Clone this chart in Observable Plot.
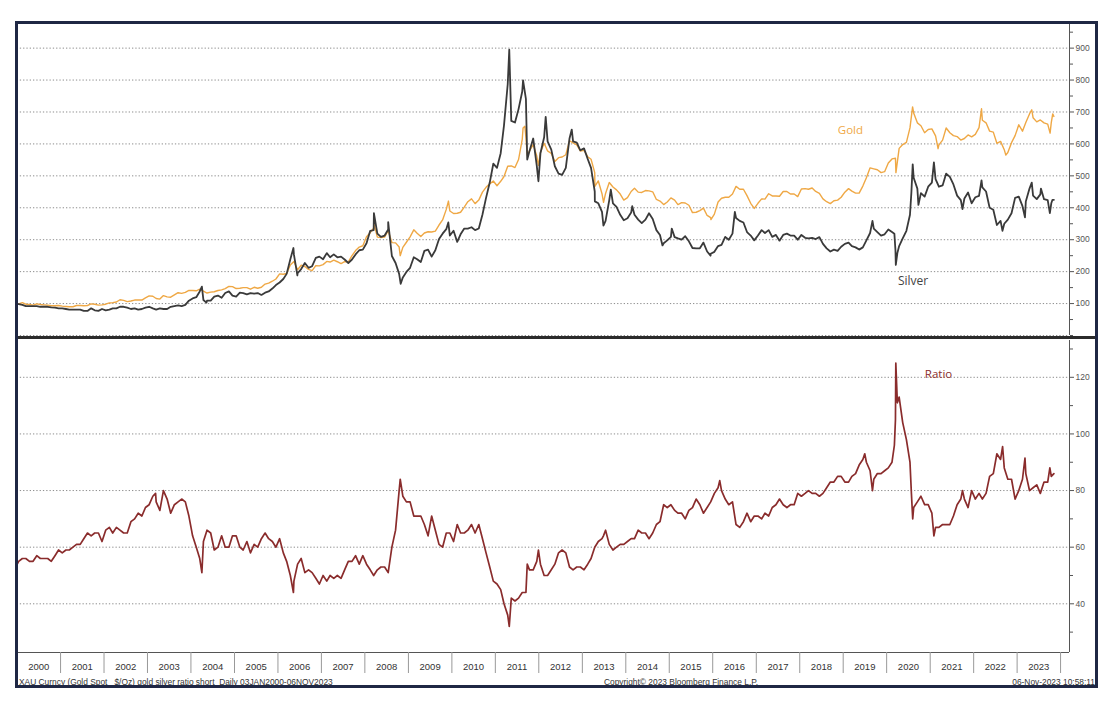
<!DOCTYPE html>
<html><head><meta charset="utf-8">
<script src="https://cdn.jsdelivr.net/npm/d3@7"></script>
<script src="https://cdn.jsdelivr.net/npm/@observablehq/plot@0.6"></script>
<style>
body{margin:0;background:#fff;}
#wrap{position:relative;width:1118px;height:708px;overflow:hidden;background:#fff;font-family:"Liberation Sans",Arial,sans-serif;}
.abs{position:absolute;}
#frame{left:15px;top:21px;width:1077px;height:661px;border:3px solid #1f2744;pointer-events:none;z-index:5;}
#sep{left:18px;top:336px;width:1077px;height:3px;background:#2b2b2b;z-index:4;}
.foot{top:677px;font-size:8.4px;color:#333;white-space:pre;line-height:10px;}
</style></head>
<body>
<div id="wrap">
  <div id="topPanel" class="abs" style="left:0;top:24px;"></div>
  <div id="botPanel" class="abs" style="left:0;top:340px;"></div>
  <div id="sep" class="abs"></div>
  <div class="abs foot" style="left:19px;">XAU Curncy (Gold Spot   $/Oz) gold silver ratio short  Daily 03JAN2000-06NOV2023</div>
  <div class="abs foot" style="left:604px;">Copyright© 2023 Bloomberg Finance L.P.</div>
  <div class="abs foot" style="right:23px;">06-Nov-2023 10:58:11</div>
  <div id="frame" class="abs"></div>
</div>
<script>
// ---- Monthly values (mid-month), Jan 2000 .. Oct 2023 ----
const goldMonthly = [
 99,103,98,97,95,99,97,96,95,93,93,94,
 92,91,90,90,94,94,93,94,99,98,95,96,
 98,102,103,105,112,110,106,108,111,111,111,118,
 124,123,116,114,125,121,120,127,134,132,135,141,
 141,140,145,139,133,136,137,141,143,147,154,153,
 147,148,150,150,145,151,148,151,161,164,170,177,
 193,192,194,221,232,206,220,216,207,203,219,218,
 222,232,230,236,231,225,231,231,250,266,277,281,
 309,322,336,308,307,308,328,291,290,277,276,292,
 309,331,320,310,321,325,324,327,346,362,395,390,
 382,383,386,402,419,428,413,424,449,464,475,484,
 469,483,498,530,531,526,551,614,620,578,598,562,
 574,602,578,570,545,557,559,566,610,603,597,578,
 580,560,552,510,484,444,445,479,465,456,443,424,
 432,451,461,449,448,454,453,450,426,421,410,418,
 431,424,410,416,415,408,385,386,391,399,376,369,
 380,418,430,433,433,443,467,458,458,438,414,398,
 414,428,427,444,437,437,436,451,451,443,443,435,
 459,460,458,462,451,445,428,419,413,422,424,433,
 449,460,452,446,446,468,494,525,522,519,510,513,
 540,553,555,586,598,605,650,697,666,657,635,645,
 647,625,597,612,650,635,626,623,612,617,628,622,
 630,651,674,666,640,637,602,608,582,573,604,626,
 660,640,667,694,682,669,675,666,662,667
];
const goldExtra = [
 ["2000-01-03",100],["2008-03-17",350],["2008-10-24",250],["2009-12-03",421],
 ["2011-08-22",650],["2011-09-06",655],["2011-09-26",565],["2011-12-29",533],
 ["2013-04-16",467],["2013-06-28",417],["2015-12-17",363],["2020-03-19",510],
 ["2020-08-06",716],["2021-03-08",585],["2022-03-08",710],["2022-09-28",565],
 ["2023-05-04",707],["2023-10-05",634],["2023-10-27",694],["2023-11-06",686]
];
const silverMonthly = [
 98,96,92,92,92,92,90,90,90,88,87,85,
 85,83,81,81,81,81,77,77,85,79,77,83,
 79,81,85,85,90,90,87,83,85,81,83,87,
 90,85,81,85,83,83,90,92,94,92,96,109,
 116,120,138,111,109,109,122,125,118,133,138,125,
 122,134,133,129,133,131,133,127,134,138,147,158,
 166,177,193,239,254,195,208,227,212,217,243,247,
 239,258,245,254,245,247,238,227,238,254,267,269,
 289,328,330,319,309,313,332,249,227,193,182,199,
 212,245,239,230,265,269,247,267,302,319,333,313,
 328,293,317,335,335,339,330,335,379,431,479,538,
 525,571,659,787,672,667,709,764,740,578,617,532,
 571,621,608,582,530,507,503,525,617,608,604,580,
 586,553,525,451,414,387,359,424,414,403,378,361,
 367,385,378,363,352,363,383,365,330,315,289,298,
 309,308,304,300,311,295,274,273,273,291,263,256,
 262,280,284,309,300,319,368,359,354,324,313,298,
 313,330,321,330,309,315,297,315,319,313,313,300,
 315,306,304,306,302,308,287,273,263,269,265,278,
 287,291,280,276,269,276,298,321,335,324,313,317,
 332,324,267,280,304,328,378,494,460,446,435,466,
 479,490,466,470,507,497,473,438,424,429,448,414,
 433,437,464,451,400,394,346,359,350,363,383,431,
 435,405,420,460,438,427,442,427,424,414
];
const silverExtra = [
 ["2000-01-03",100],["2004-04-02",153],["2004-05-10",103],["2006-05-11",274],
 ["2006-06-13",188],["2008-03-17",383],["2008-07-15",355],["2008-10-28",162],
 ["2009-12-02",354],["2011-04-28",895],["2011-08-22",799],["2011-09-26",551],
 ["2011-12-29",483],["2012-02-28",685],["2012-10-04",645],["2013-04-16",420],
 ["2013-06-27",344],["2013-08-28",457],["2014-02-24",405],["2014-11-05",282],
 ["2015-01-22",335],["2015-12-14",250],["2016-07-05",387],["2019-09-04",359],
 ["2020-03-06",319],["2020-03-18",221],["2020-03-31",258],["2020-07-27",449],
 ["2020-08-07",536],["2020-09-24",409],["2021-02-01",542],["2021-09-29",396],
 ["2022-03-08",486],["2022-08-31",328],["2023-03-08",370],["2023-05-04",479],
 ["2023-07-20",460],["2023-10-03",383],["2023-10-25",425],["2023-11-06",425]
];
const ratioMonthly = [
 55,56,56,55,55,57,56,56,56,55,57,59,
 58,59,59,60,61,61,63,65,64,65,65,62,
 66,67,65,67,66,65,65,69,70,72,71,74,
 75,78,76,73,80,77,72,75,76,77,76,71,
 64,60,56,62,66,65,59,60,64,60,60,64,
 64,60,59,62,58,61,60,63,65,63,62,60,
 63,58,55,50,48,54,56,51,52,51,49,47,
 50,48,50,49,50,49,52,55,55,57,54,57,
 54,52,50,52,53,53,51,60,66,80,78,76,
 76,71,71,71,68,64,71,66,61,60,65,65,
 62,68,65,65,66,68,65,68,63,58,53,48,
 47,45,40,36,42,41,42,44,44,52,52,55,
 54,50,50,52,54,58,59,58,53,52,53,53,
 52,54,56,60,62,63,66,61,59,60,61,61,
 62,63,63,66,65,65,63,65,68,69,75,74,
 75,73,72,72,70,73,74,77,75,72,74,76,
 79,81,80,77,75,76,68,67,69,72,69,71,
 71,70,72,71,74,75,77,75,74,75,75,79,
 78,79,80,79,79,78,79,81,83,83,85,85,
 83,83,85,86,89,91,90,87,84,86,86,87,
 88,90,105,113,104,98,90,74,76,78,75,75,
 72,67,67,68,68,68,71,75,77,77,74,80,
 77,79,77,79,85,86,93,91,88,84,84,77,
 80,84,86,80,81,82,79,83,83,85
];
const ratioExtra = [
 ["2000-01-03",54],["2003-03-10",79],["2004-04-02",51],["2006-05-11",44],
 ["2008-10-24",84],["2011-04-28",32],["2011-09-26",54],["2011-12-29",59],
 ["2013-06-27",64],["2016-02-29",83.5],["2019-07-01",93],["2019-09-04",80],
 ["2020-03-06",96],["2020-03-18",125],["2020-03-31",111],["2020-07-27",79],
 ["2020-08-07",70],["2021-02-01",64],["2021-09-29",80],["2022-09-01",95.5],
 ["2023-03-08",91.5],["2023-10-03",88],["2023-11-06",86]
];
const years = d3.range(2000, 2024);
const topTicks = [100,200,300,400,500,600,700,800,900];
const topMinor = [0,50,150,250,350,450,550,650,750,850,950];
const topGrid = [0,100,200,300,400,500,600,700,800,900];
const botTicks = [40,60,80,100,120];
const botMinor = [30,50,70,90,110,130];
const topLabels = [
 {name:"Gold", date:"2019-03-03", value:642},
 {name:"Silver", date:"2020-08-10", value:170}
];
const botLabels = [{name:"Ratio", date:"2021-03-12", value:121}];

const goldColor = "#EFA845", silverColor = "#3a3a3a", ratioColor = "#8a2c2c";

function series(monthly, extra) {
  const pts = monthly.map((v, i) => ({date: new Date(Date.UTC(2000 + Math.floor(i / 12), i % 12, 15)), value: v}));
  extra.forEach(([d, v]) => pts.push({date: new Date(d), value: v}));
  return pts.sort((a, b) => a.date - b.date);
}
const gold = series(goldMonthly, goldExtra);
const silver = series(silverMonthly, silverExtra);
const ratio = series(ratioMonthly, ratioExtra);
topLabels.forEach(d => d.date = new Date(d.date));
botLabels.forEach(d => d.date = new Date(d.date));

const xStart = new Date(Date.UTC(2000, 0, 1));
const xEnd = new Date(Date.UTC(2024, 2, 16));
const W = 1118, ML = 16.5, MR = 49;
const baseStyle = {background: "transparent", fontFamily: "'Liberation Sans', Arial, sans-serif", color: "#555", overflow: "visible"};
const gridOpts = {stroke: "#8d8d8d", strokeOpacity: 1, strokeDasharray: "1.3,2"};

const topPlot = Plot.plot({
  width: W, height: 311, marginTop: 0, marginBottom: 0, marginLeft: ML, marginRight: MR,
  x: {type: "utc", domain: [xStart, xEnd], axis: null},
  y: {domain: [0, 974]},
  style: baseStyle,
  marks: [
    Plot.gridY({ticks: topGrid, ...gridOpts}),
    Plot.line(gold, {x: "date", y: "value", stroke: goldColor, strokeWidth: 1.4}),
    Plot.line(silver, {x: "date", y: "value", stroke: silverColor, strokeWidth: 1.8}),
    Plot.ruleX([xEnd], {stroke: "#555"}),
    Plot.axisY({anchor: "right", ticks: topTicks, tickSize: 4, tickPadding: 2, fontSize: 8.5, label: null}),
    Plot.axisY({anchor: "right", ticks: topMinor, tickSize: 3, tickFormat: () => "", label: null}),
    Plot.text(topLabels.filter(d => d.name === "Gold"), {x: "date", y: "value", text: "name", fill: goldColor, fontSize: 11.5, fontFamily: "'Open Sans', sans-serif"}),
    Plot.text(topLabels.filter(d => d.name === "Silver"), {x: "date", y: "value", text: "name", fill: "#444", fontSize: 12, fontFamily: "'Open Sans', sans-serif"})
  ]
});
document.getElementById("topPanel").append(topPlot);

const yearStarts = d3.range(2000, 2025).map(y => new Date(Date.UTC(y, 0, 1)));
const midYears = years.map(y => new Date(Date.UTC(y, 6, 2)));

const botPlot = Plot.plot({
  width: W, height: 336, marginTop: 0, marginBottom: 24, marginLeft: ML, marginRight: MR,
  x: {type: "utc", domain: [xStart, xEnd]},
  y: {domain: [22.8, 133]},
  style: baseStyle,
  marks: [
    Plot.gridY({ticks: botTicks, ...gridOpts}),
    Plot.line(ratio, {x: "date", y: "value", stroke: ratioColor, strokeWidth: 1.7}),
    Plot.ruleX([xEnd], {stroke: "#555"}),
    Plot.ruleY([22.8], {stroke: "#555"}),
    Plot.axisY({anchor: "right", ticks: botTicks, tickSize: 4, tickPadding: 2, fontSize: 8.5, label: null}),
    Plot.axisY({anchor: "right", ticks: botMinor, tickSize: 3, tickFormat: () => "", label: null}),
    Plot.axisX({ticks: yearStarts, tickSize: 21, tickFormat: () => "", stroke: "#999", label: null}),
    Plot.axisX({ticks: midYears, tickSize: 0, tickPadding: 11, fontSize: 9.5, fill: "#333", tickFormat: d => String(d.getUTCFullYear()), label: null}),
    Plot.text(botLabels, {x: "date", y: "value", text: "name", fill: ratioColor, fontSize: 11.5, fontFamily: "'Open Sans', sans-serif"})
  ]
});
document.getElementById("botPanel").append(botPlot);
</script>
</body></html>
